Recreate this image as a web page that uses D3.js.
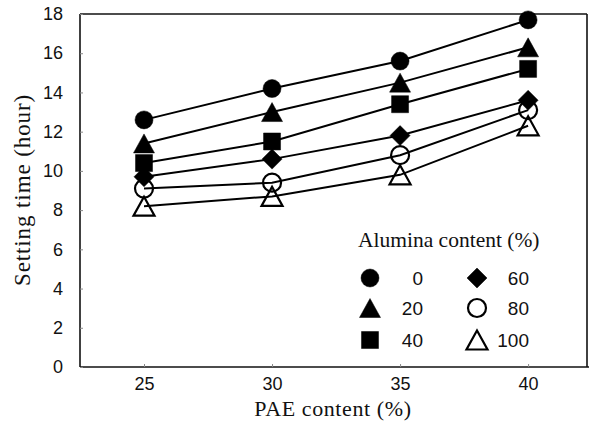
<!DOCTYPE html>
<html>
<head>
<meta charset="utf-8">
<script src="https://cdn.jsdelivr.net/npm/d3@7"></script>
<style>
  body { margin: 0; background: #fff; }
  text { fill: #111; }
</style>
</head>
<body>
<svg id="chart" width="589" height="423"></svg>
<script>
// PAE content (%) on the x axis
const paeContent = [25, 30, 35, 40];
// Setting time (hour) for each alumina content (%)
const aluminaLevels = ["0", "20", "40", "60", "80", "100"];
const alumina0   = [12.6, 14.2, 15.6, 17.7];
const alumina20  = [11.4, 13.0, 14.5, 16.3];
const alumina40  = [10.4, 11.5, 13.4, 15.2];
const alumina60  = [9.7, 10.6, 11.8, 13.6];
const alumina80  = [9.1, 9.4, 10.8, 13.1];
const alumina100 = [8.2, 8.7, 9.8, 12.3];
const yTickValues = [0, 2, 4, 6, 8, 10, 12, 14, 16, 18];
const xTickValues = [25, 30, 35, 40];

const seriesValues = [alumina0, alumina20, alumina40, alumina60, alumina80, alumina100];
const markerShapes = ["circle", "triangle", "square", "diamond", "circle", "triangle"];
const markerFilled = [true, true, true, true, false, false];

const svg = d3.select("#chart");
const serif = "'Liberation Serif', 'Times New Roman', serif";
const sans = "'Liberation Sans', Arial, sans-serif";

const plot = { left: 80, right: 587, top: 14, bottom: 367 };

const x = d3.scaleLinear().domain([22.5, 42.3]).range([plot.left, plot.right]);
const y = d3.scaleLinear().domain([0, 18]).range([plot.bottom, plot.top]);

// marker outline path centred on (0,0)
function markerPath(shape) {
  const p = d3.path();
  if (shape === "circle") {
    p.arc(0, 0, 9, 0, 2 * Math.PI);
  } else if (shape === "triangle") {
    const w = 10.5, h = 9.5;
    p.moveTo(0, -h); p.lineTo(w, h); p.lineTo(-w, h); p.closePath();
  } else if (shape === "square") {
    const s = 8.5;
    p.rect(-s, -s, 2 * s, 2 * s);
  } else if (shape === "diamond") {
    const d = 10;
    p.moveTo(0, -d); p.lineTo(d, 0); p.lineTo(0, d); p.lineTo(-d, 0); p.closePath();
  }
  return p.toString();
}

function drawMarker(g, i, cx, cy) {
  const filled = markerFilled[i];
  g.append("path")
    .attr("d", markerPath(markerShapes[i]))
    .attr("transform", `translate(${cx},${cy})`)
    .attr("fill", filled ? "#000" : "none")
    .attr("stroke", "#000")
    .attr("stroke-width", filled ? 0.5 : 2.2);
}

// frame
const frame = svg.append("g").attr("stroke", "#111").attr("stroke-width", 1.6).attr("fill", "none");
frame.append("line").attr("x1", plot.left).attr("x2", plot.left).attr("y1", plot.top).attr("y2", plot.bottom);
frame.append("line").attr("x1", plot.left).attr("x2", 589).attr("y1", plot.bottom).attr("y2", plot.bottom);
frame.append("line").attr("x1", plot.left).attr("x2", plot.right).attr("y1", plot.top).attr("y2", plot.top);
frame.append("line").attr("x1", plot.right).attr("x2", plot.right).attr("y1", plot.top).attr("y2", plot.bottom);

// y axis ticks and labels
const yAxis = d3.axisLeft(y).tickValues(yTickValues).tickSize(-3).tickPadding(17);
const yg = svg.append("g").attr("transform", `translate(${plot.left},0)`).call(yAxis);
yg.select(".domain").remove();
yg.selectAll(".tick line").attr("stroke", "#888");
yg.selectAll(".tick text").attr("font-family", sans).attr("font-size", 18).attr("fill", "#111");

// x axis ticks and labels
const xAxis = d3.axisBottom(x).tickValues(xTickValues).tickSize(-3).tickPadding(10);
const xg = svg.append("g").attr("transform", `translate(0,${plot.bottom})`).call(xAxis);
xg.select(".domain").remove();
xg.selectAll(".tick line").attr("stroke", "#888");
xg.selectAll(".tick text").attr("font-family", sans).attr("font-size", 18).attr("fill", "#111");

// axis titles
svg.append("text")
  .attr("x", 333).attr("y", 416)
  .attr("text-anchor", "middle")
  .attr("font-family", serif).attr("font-size", 22)
  .attr("letter-spacing", 0.6)
  .text("PAE content (%)");

svg.append("text")
  .attr("transform", "translate(30,190) rotate(-90)")
  .attr("text-anchor", "middle")
  .attr("font-family", serif).attr("font-size", 23)
  .attr("letter-spacing", 0.9)
  .text("Setting time (hour)");

// series lines then markers
const line = d3.line().x((d, j) => x(paeContent[j])).y(d => y(d));
const lines = svg.append("g");
seriesValues.forEach(vals => {
  lines.append("path")
    .attr("d", line(vals))
    .attr("fill", "none")
    .attr("stroke", "#000")
    .attr("stroke-width", 2);
});
const markers = svg.append("g");
seriesValues.forEach((vals, i) => {
  vals.forEach((v, j) => drawMarker(markers, i, x(paeContent[j]), y(v)));
});

// legend
const legend = svg.append("g");
legend.append("text")
  .attr("x", 358).attr("y", 247)
  .attr("font-family", serif).attr("font-size", 21.5)
  .text("Alumina content (%)");
const rowY = [278, 308, 340];
const colMarkerX = [370, 477];
const colLabelX = [423, 529];
aluminaLevels.forEach((lab, i) => {
  const col = Math.floor(i / 3), row = i % 3;
  drawMarker(legend, i, colMarkerX[col], rowY[row]);
  legend.append("text")
    .attr("x", colLabelX[col]).attr("y", rowY[row])
    .attr("dy", "0.36em")
    .attr("text-anchor", "end")
    .attr("font-family", sans).attr("font-size", 19)
    .text(lab);
});
</script>
</body>
</html>
